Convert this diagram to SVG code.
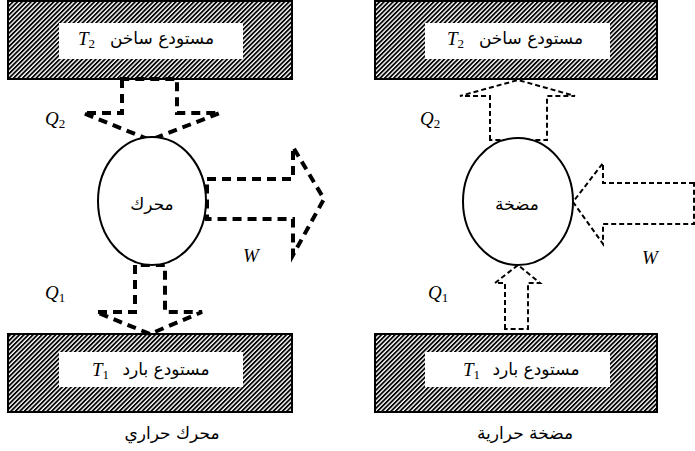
<svg xmlns="http://www.w3.org/2000/svg" width="695" height="451" viewBox="0 0 695 451">
<defs>
<pattern id="hatch" width="3.2" height="3.2" patternUnits="userSpaceOnUse" patternTransform="rotate(45)">
<rect width="1.8" height="3.2" fill="#000"/>
</pattern>
</defs>
<style>
.box{fill:url(#hatch);stroke:#000;stroke-width:2}
.inner{fill:#fff;stroke:none}
.ell{fill:#fff;stroke:#000;stroke-width:2}
.ar{font-family:"DejaVu Sans",sans-serif;font-size:17px;fill:#000;text-anchor:middle}
.cap{font-family:"DejaVu Sans",sans-serif;font-size:17px;fill:#000;text-anchor:middle}
.sym{font-family:"Liberation Serif",serif;font-style:italic;font-size:19px;fill:#000}
.sub{font-style:normal;font-size:13px}
.thick{fill:none;stroke:#000;stroke-width:4;stroke-dasharray:9 6}
.thin{fill:none;stroke:#000;stroke-width:2;stroke-dasharray:5 3}
</style>
<g id="hot-left">
<rect class="box" x="8" y="1" width="284" height="78"/>
<rect class="inner" x="59" y="23" width="184" height="36"/>
<text class="ar" x="162" y="44">مستودع ساخن</text>
<text class="sym" x="78" y="45">T<tspan class="sub" dy="3">2</tspan></text>
</g>
<g id="cold-left">
<rect class="box" x="8" y="334" width="284" height="78"/>
<rect class="inner" x="59" y="352" width="184" height="35"/>
<text class="ar" x="166" y="375">مستودع بارد</text>
<text class="sym" x="92" y="376">T<tspan class="sub" dy="3">1</tspan></text>
</g>
<g id="hot-right">
<rect class="box" x="375" y="1" width="282" height="78"/>
<rect class="inner" x="425" y="23" width="185" height="36"/>
<text class="ar" x="531" y="44">مستودع ساخن</text>
<text class="sym" x="447" y="45">T<tspan class="sub" dy="3">2</tspan></text>
</g>
<g id="cold-right">
<rect class="box" x="375" y="334" width="282" height="78"/>
<rect class="inner" x="425" y="352" width="185" height="35"/>
<text class="ar" x="536" y="375">مستودع بارد</text>
<text class="sym" x="463" y="376">T<tspan class="sub" dy="3">1</tspan></text>
</g>
<g id="connectors">
<polygon class="thick" points="122,79 122,113 83,113 150,140 220,113 177,113 177,79"/>
<polygon class="thick" points="207,179 293,179 293,147 324,199 293,255 293,219 207,219"/>
<polygon class="thick" points="135,265 135,312 96,312 150,334 202,312 165,312 165,265"/>
<polygon class="thin" points="490,140 490,96 460,96 518,80 575,96 547,96 547,140"/>
<polygon class="thin" points="694,183 603,183 603,163 573,202 603,244 603,224 694,224"/>
<polygon class="thin" points="505,329 505,283 495,283 518,265 540,283 528,283 528,329"/>
</g>
<g id="engine">
<ellipse class="ell" cx="152" cy="201" rx="54" ry="64"/>
<text class="ar" x="152" y="210">محرك</text>
</g>
<g id="pump">
<ellipse class="ell" cx="518" cy="201.5" rx="55" ry="63.5"/>
<text class="ar" x="517" y="210">مضخة</text>
</g>
<g id="labels">
<text class="sym" x="45" y="125">Q<tspan class="sub" dy="3">2</tspan></text>
<text class="sym" x="45" y="299">Q<tspan class="sub" dy="3">1</tspan></text>
<text class="sym" x="243" y="262">W</text>
<text class="sym" x="420" y="125">Q<tspan class="sub" dy="3">2</tspan></text>
<text class="sym" x="428" y="299">Q<tspan class="sub" dy="3">1</tspan></text>
<text class="sym" x="642" y="264">W</text>
<text class="cap" x="172" y="439">محرك حراري</text>
<text class="cap" x="525" y="439">مضخة حرارية</text>
</g>
</svg>
